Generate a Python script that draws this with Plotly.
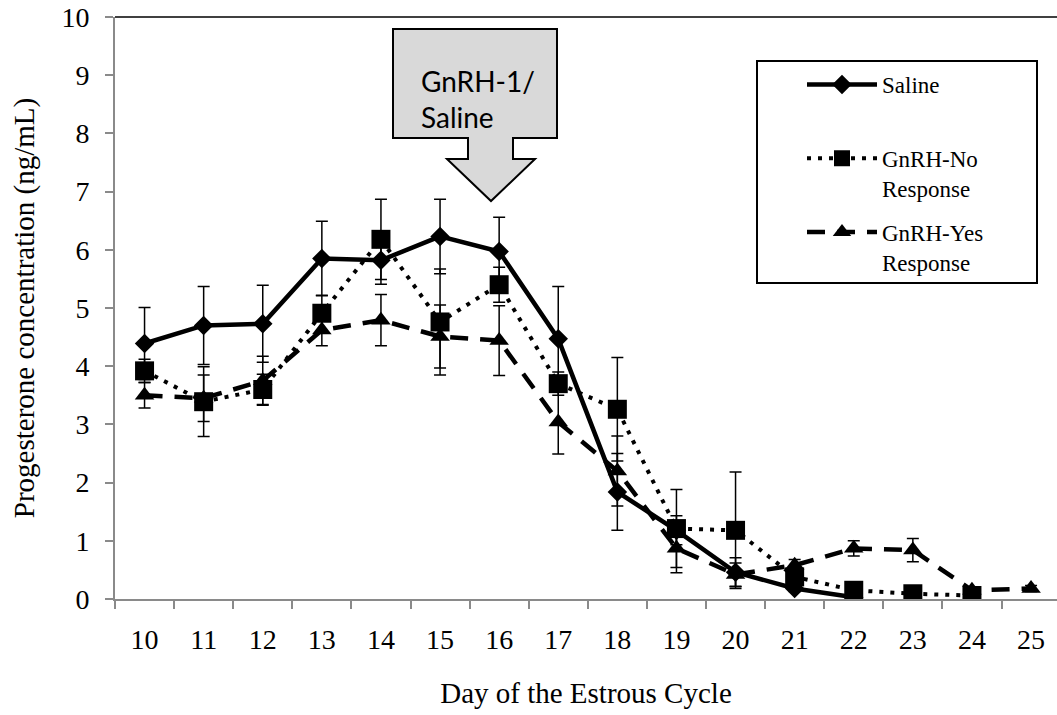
import plotly.graph_objects as go

# Progesterone concentration (ng/mL) by day of the estrous cycle, mean +/- SEM
days_saline = list(range(10, 23))
saline = [4.39, 4.70, 4.73, 5.85, 5.82, 6.23, 5.97, 4.47, 1.84, 1.18, 0.46, 0.18, 0.03]
saline_err = [0.62, 0.67, 0.66, 0.64, 0.41, 0.64, 0.59, 0.90, 0.66, 0.25, 0.25, 0.05, 0.02]

days_no = list(range(10, 25))
no_resp = [3.92, 3.39, 3.60, 4.91, 6.18, 4.76, 5.40, 3.70, 3.26, 1.21, 1.18, 0.38, 0.15, 0.09, 0.06]
no_err = [0.20, 0.60, 0.26, 0.31, 0.69, 0.91, 0.30, 0.20, 0.89, 0.67, 1.00, 0.15, 0.05, 0.03, 0.03]

days_yes = list(range(10, 26))
yes_resp = [3.50, 3.45, 3.75, 4.62, 4.79, 4.51, 4.44, 3.04, 2.20, 0.87, 0.42, 0.58, 0.87, 0.84, 0.15, 0.18]
yes_err = [0.22, 0.40, 0.42, 0.27, 0.44, 0.54, 0.60, 0.55, 0.60, 0.42, 0.20, 0.10, 0.13, 0.20, 0.05, 0.05]

tick_days = list(range(10, 26))
y_ticks = list(range(0, 11))

W, H = 1057, 715
ML, MR, MT, MB = 115, 0, 17, 116
PW, PH = W - ML - MR, H - MT - MB
CAT_PX = 59.1  # width of one day on the x axis

SERIF = "Liberation Serif, Times New Roman, serif"
AXIS_GREY = "#8a8a8a"


def px(x, y):
    """Pixel position inside the figure -> paper coordinates."""
    return (x - ML) / PW, (H - MB - y) / PH


def err(values):
    return dict(type="data", array=values, visible=True, color="black",
                thickness=1.5, width=6)


fig = go.Figure()

fig.add_trace(go.Scatter(
    x=days_saline, y=saline, name="Saline<br> ", mode="lines+markers",
    line=dict(color="black", width=4.5),
    marker=dict(symbol="diamond", size=15, color="black"),
    error_y=err(saline_err), legendgroup="a",
))
fig.add_trace(go.Scatter(
    x=days_no, y=no_resp, name="GnRH-No<br>Response", mode="lines+markers",
    line=dict(color="black", width=4, dash="4px,7px"),
    marker=dict(symbol="square", size=19, color="black"),
    error_y=err(no_err), legendgroup="b",
))
fig.add_trace(go.Scatter(
    x=days_yes, y=yes_resp, name="GnRH-Yes<br>Response", mode="lines+markers",
    line=dict(color="black", width=4.5, dash="18px,12px"),
    marker=dict(symbol="triangle-up", size=17, color="black"),
    error_y=err(yes_err), legendgroup="c",
))

# Treatment call-out arrow (box + stem + head)
pts = [(393, 29), (557, 29), (557, 138), (513, 138), (513, 159), (535, 159),
       (491, 201), (447, 159), (468, 159), (468, 138), (393, 138)]
path = "M " + " L ".join(f"{px(x, y)[0]:.5f},{px(x, y)[1]:.5f}" for x, y in pts) + " Z"

shapes = [
    dict(type="path", xref="paper", yref="paper", path=path,
         fillcolor="#d9d9d9", line=dict(color="black", width=2), layer="above"),
    # top frame line of the plot area
    dict(type="line", xref="paper", yref="paper", x0=0, x1=1.01, y0=1, y1=1,
         line=dict(color="black", width=1.5)),
]
lx0, ly0 = px(757, 61)
lx1, ly1 = px(1037, 283)
shapes.append(dict(type="rect", xref="paper", yref="paper", x0=lx0, y0=ly1, x1=lx1, y1=ly0,
                   line=dict(color="black", width=2), fillcolor="rgba(0,0,0,0)"))

ax, ay = px(419, 62)
annotations = [dict(
    xref="paper", yref="paper", x=ax, y=ay, xanchor="left", yanchor="top",
    text="GnRH-1/<br>Saline", showarrow=False, align="left",
    font=dict(family="Lato, Carlito, Calibri, sans-serif", size=28, color="black"),
)]

legx, legy = px(802, 63)

fig.update_layout(
    width=W, height=H,
    margin=dict(l=ML, r=MR, t=MT, b=MB, autoexpand=False),
    paper_bgcolor="white", plot_bgcolor="white",
    font=dict(family=SERIF, color="black"),
    shapes=shapes, annotations=annotations,
    legend=dict(
        x=legx, y=legy, xanchor="left", yanchor="top",
        font=dict(family=SERIF, size=23, color="black"),
        bgcolor="rgba(0,0,0,0)", borderwidth=0,
        itemwidth=70, valign="top", tracegroupgap=11,
    ),
    xaxis=dict(
        range=[9.5, 9.5 + PW / CAT_PX],
        tickmode="array", tickvals=tick_days, ticktext=[str(d) for d in tick_days],
        ticks="", showgrid=False, zeroline=False,
        showline=True, linecolor=AXIS_GREY, linewidth=2,
        tickfont=dict(family=SERIF, size=28, color="black"),
        ticklabelstandoff=14,
        minor=dict(tick0=9.5, dtick=1, ticks="outside", ticklen=8,
                   tickcolor=AXIS_GREY, tickwidth=2, showgrid=False),
        title=dict(text="Day of the Estrous Cycle",
                   font=dict(family=SERIF, size=29, color="black"), standoff=29),
    ),
    yaxis=dict(
        range=[0, 10], tickmode="array", tickvals=y_ticks,
        ticks="outside", ticklen=8, tickcolor=AXIS_GREY, tickwidth=2,
        showgrid=False, zeroline=False,
        showline=True, linecolor=AXIS_GREY, linewidth=2,
        tickfont=dict(family=SERIF, size=28, color="black"),
        ticklabelstandoff=10,
        title=dict(text="Progesterone concentration (ng/mL)",
                   font=dict(family=SERIF, size=29, color="black"), standoff=18),
    ),
)

fig.write_html("out.html")
